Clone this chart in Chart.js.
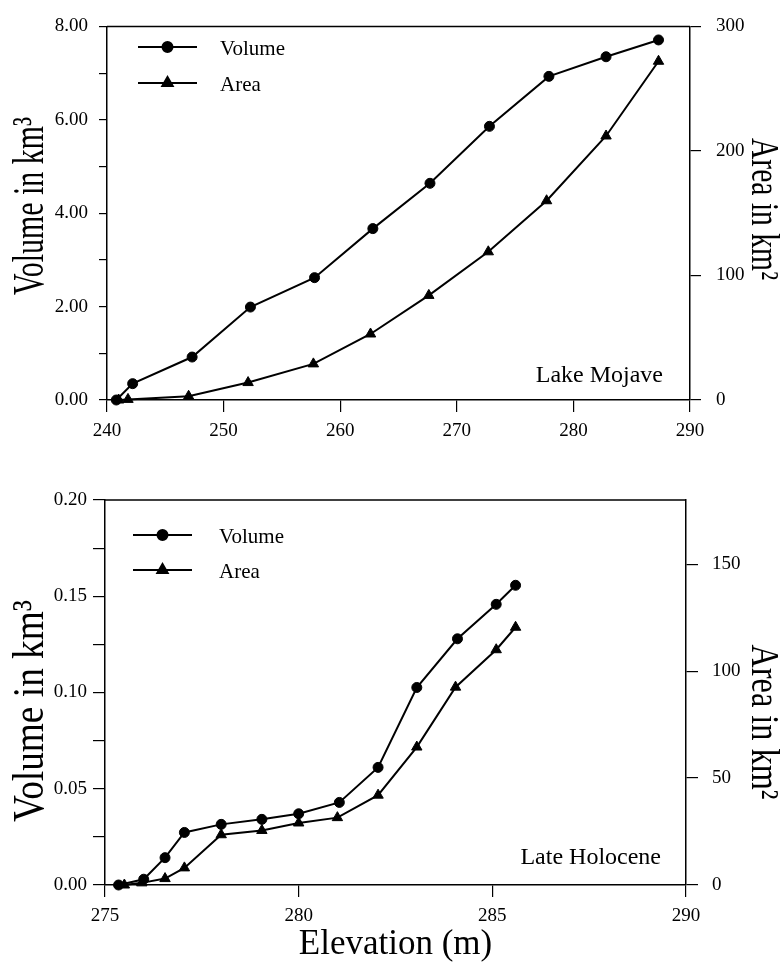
<!DOCTYPE html>
<html>
<head>
<meta charset="utf-8">
<script src="https://cdn.jsdelivr.net/npm/chart.js@4.4.0/dist/chart.umd.min.js"></script>
<style>
  html, body { margin: 0; padding: 0; background: #fff; }
  #wrap { position: relative; width: 782px; height: 973px; overflow: hidden; background: #fff; }
  canvas { position: absolute; left: 0; }
  #c1 { top: 0; }
  #c2 { top: 450px; }
</style>
</head>
<body>
<div id="wrap">
  <canvas id="c1" width="782" height="450"></canvas>
  <canvas id="c2" width="782" height="523"></canvas>
</div>
<script>
// ---------- data ----------
// Lake Mojave
const mojaveVolumeElev = [240.8, 242.2, 247.3, 252.3, 257.8, 262.8, 267.7, 272.8, 277.9, 282.8, 287.3];
const mojaveVolume     = [0, 0.35, 0.92, 1.99, 2.62, 3.67, 4.64, 5.86, 6.93, 7.35, 7.71];
const mojaveAreaElev   = [241.0, 241.8, 247.0, 252.1, 257.7, 262.6, 267.6, 272.7, 277.7, 282.8, 287.3];
const mojaveArea       = [0, 0.5, 3, 14, 29, 53, 84, 119, 160, 212, 272];

// Late Holocene
const holoVolumeElev = [275.35, 276.0, 276.55, 277.05, 278.0, 279.05, 280.0, 281.05, 282.05, 283.05, 284.1, 285.1, 285.6];
const holoVolume     = [0, 0.003, 0.0142, 0.0273, 0.0315, 0.0341, 0.037, 0.0429, 0.0611, 0.1026, 0.1279, 0.1458, 0.1557];
const holoAreaElev   = [275.5, 275.95, 276.55, 277.05, 278.0, 279.05, 280.0, 281.0, 282.05, 283.05, 284.05, 285.1, 285.6];
const holoArea       = [0, 1, 3, 8, 23.5, 25.5, 29, 31.5, 42, 64.5, 92.5, 110, 120.5];

const seriesNames = ['Volume', 'Area'];
const xTitle = 'Elevation (m)';
const volumeTitle = 'Volume in km³';
const areaTitle = 'Area in km²';

// ---------- helpers ----------
const FONT = '"Liberation Serif", "Times New Roman", serif';
const pairs = (xs, ys) => xs.map((x, i) => ({ x: x, y: ys[i] }));

const decor = {
  id: 'decor',
  afterDraw(chart, args, o) {
    const ctx = chart.ctx, a = chart.chartArea;
    ctx.save();
    ctx.strokeStyle = '#000';
    ctx.fillStyle = '#000';
    // top frame line
    ctx.lineWidth = 1.5;
    ctx.beginPath(); ctx.moveTo(a.left, a.top); ctx.lineTo(a.right, a.top); ctx.stroke();

    // legend
    const L = o.legend;
    chart.data.datasets.forEach((d, i) => {
      const y = L.rows[i];
      ctx.lineWidth = d.borderWidth;
      ctx.beginPath(); ctx.moveTo(L.x1, y); ctx.lineTo(L.x2, y); ctx.stroke();
      Chart.helpers.drawPoint(ctx, { pointStyle: d.pointStyle, radius: d.pointRadius, borderWidth: 1, rotation: 0 }, (L.x1 + L.x2) / 2, y);
      ctx.font = L.size + 'px ' + FONT;
      ctx.textAlign = 'left';
      ctx.textBaseline = 'middle';
      ctx.fillText(d.label, L.textX, y + 2);
    });

    // note
    const N = o.note;
    ctx.font = N.size + 'px ' + FONT;
    ctx.textAlign = 'right';
    ctx.textBaseline = 'alphabetic';
    ctx.fillText(N.text, N.right, N.baseline);

    // rotated axis titles (condensed like the original)
    o.titles.forEach(t => {
      ctx.save();
      ctx.font = t.size + 'px ' + FONT;
      ctx.textAlign = 'center';
      ctx.textBaseline = 'alphabetic';
      const w = ctx.measureText(t.text).width;
      const capH = 0.662 * t.size;
      ctx.translate(t.cx, t.cy);
      ctx.rotate(t.side === 'left' ? -Math.PI / 2 : Math.PI / 2);
      ctx.scale(t.length / w, 1);
      ctx.fillText(t.text, 0, capH / 2);
      ctx.restore();
    });
    ctx.restore();
  }
};

function axisBase(extra) {
  return Object.assign({
    type: 'linear',
    grid: { drawOnChartArea: false, drawTicks: true, color: '#000', lineWidth: 1.2 },
    border: { display: true, color: '#000', width: 1.5 },
    ticks: { color: '#000', font: { family: FONT, size: 19 } }
  }, extra);
}

function dataset(label, data, style, radius) {
  return {
    label: label, data: data,
    borderColor: '#000', backgroundColor: '#000',
    borderWidth: 2, pointStyle: style, pointRadius: radius,
    pointBorderWidth: 1, pointBackgroundColor: '#000', pointBorderColor: '#000',
    tension: 0, fill: false, clip: false
  };
}

// ---------- top chart: Lake Mojave ----------
new Chart(document.getElementById('c1'), {
  type: 'line',
  data: {
    datasets: [
      Object.assign(dataset(seriesNames[0], pairs(mojaveVolumeElev, mojaveVolume), 'circle', 5), { yAxisID: 'y' }),
      Object.assign(dataset(seriesNames[1], pairs(mojaveAreaElev, mojaveArea), 'triangle', 6), { yAxisID: 'y2' })
    ]
  },
  options: {
    responsive: false, animation: false,
    layout: { padding: { top: 15, left: 0, right: 0, bottom: 0 } },
    plugins: {
      legend: { display: false }, tooltip: { enabled: false },
      decor: {
        legend: { x1: 138, x2: 197, rows: [47, 83], textX: 220, size: 21 },
        note: { text: 'Lake Mojave', right: 663, baseline: 382, size: 24 },
        titles: [
          { text: volumeTitle, side: 'left', cx: 28, cy: 206, size: 44, length: 178 },
          { text: areaTitle, side: 'right', cx: 765, cy: 209, size: 40, length: 142 }
        ]
      }
    },
    scales: {
      x: axisBase({
        position: 'bottom', min: 240, max: 290,
        ticks: { color: '#000', font: { family: FONT, size: 19 }, stepSize: 10, padding: 8, maxRotation: 0 },
        grid: { drawOnChartArea: false, color: '#000', lineWidth: 1.2, tickLength: 12 },
        afterFit: s => { s.height = 50; }
      }),
      y: axisBase({
        position: 'left', min: 0, max: 8,
        ticks: { color: '#000', font: { family: FONT, size: 19 }, stepSize: 1, padding: 11,
                 callback: v => (Math.round(v) % 2 === 0 ? Number(v).toFixed(2) : '') },
        grid: { drawOnChartArea: false, color: '#000', lineWidth: 1.2, tickLength: 8 },
        afterFit: s => { s.width = 107; }
      }),
      y2: axisBase({
        position: 'right', min: 0, max: 300,
        ticks: { color: '#000', font: { family: FONT, size: 19 }, stepSize: 100, padding: 15 },
        grid: { drawOnChartArea: false, color: '#000', lineWidth: 1.2, tickLength: 11 },
        afterFit: s => { s.width = 92; }
      })
    }
  },
  plugins: [decor]
});

// ---------- bottom chart: Late Holocene ----------
const OFF = 450;
new Chart(document.getElementById('c2'), {
  type: 'line',
  data: {
    datasets: [
      Object.assign(dataset(seriesNames[0], pairs(holoVolumeElev, holoVolume), 'circle', 5), { yAxisID: 'y' }),
      Object.assign(dataset(seriesNames[1], pairs(holoAreaElev, holoArea), 'triangle', 6), { yAxisID: 'y2' })
    ]
  },
  options: {
    responsive: false, animation: false,
    layout: { padding: { top: 500 - OFF, left: 0, right: 0, bottom: 0 } },
    plugins: {
      legend: { display: false }, tooltip: { enabled: false },
      decor: {
        legend: { x1: 133, x2: 192, rows: [535 - OFF, 570 - OFF], textX: 219, size: 21 },
        note: { text: 'Late Holocene', right: 661, baseline: 864 - OFF, size: 24 },
        titles: [
          { text: volumeTitle, side: 'left', cx: 28, cy: 711 - OFF, size: 44, length: 222 },
          { text: areaTitle, side: 'right', cx: 765, cy: 722 - OFF, size: 40, length: 155 }
        ]
      }
    },
    scales: {
      x: axisBase({
        position: 'bottom', min: 275, max: 290,
        ticks: { color: '#000', font: { family: FONT, size: 19 }, stepSize: 5, padding: 8, maxRotation: 0 },
        grid: { drawOnChartArea: false, color: '#000', lineWidth: 1.2, tickLength: 12 },
        title: { display: true, text: xTitle, color: '#000', font: { family: FONT, size: 35 }, padding: { top: 0, bottom: 7 } },
        afterFit: s => { s.height = 523 - (885 - OFF); }
      }),
      y: axisBase({
        position: 'left', min: 0, max: 0.2,
        ticks: { color: '#000', font: { family: FONT, size: 19 }, stepSize: 0.025, padding: 6,
                 callback: v => (Math.round(v / 0.025) % 2 === 0 ? Number(v).toFixed(2) : '') },
        grid: { drawOnChartArea: false, color: '#000', lineWidth: 1.2, tickLength: 12 },
        afterFit: s => { s.width = 105; }
      }),
      y2: axisBase({
        position: 'right', min: 0, max: 180,
        ticks: { color: '#000', font: { family: FONT, size: 19 }, stepSize: 50, padding: 14, includeBounds: false },
        grid: { drawOnChartArea: false, color: '#000', lineWidth: 1.2, tickLength: 12 },
        afterFit: s => { s.width = 96; }
      })
    }
  },
  plugins: [decor]
});
</script>
</body>
</html>
